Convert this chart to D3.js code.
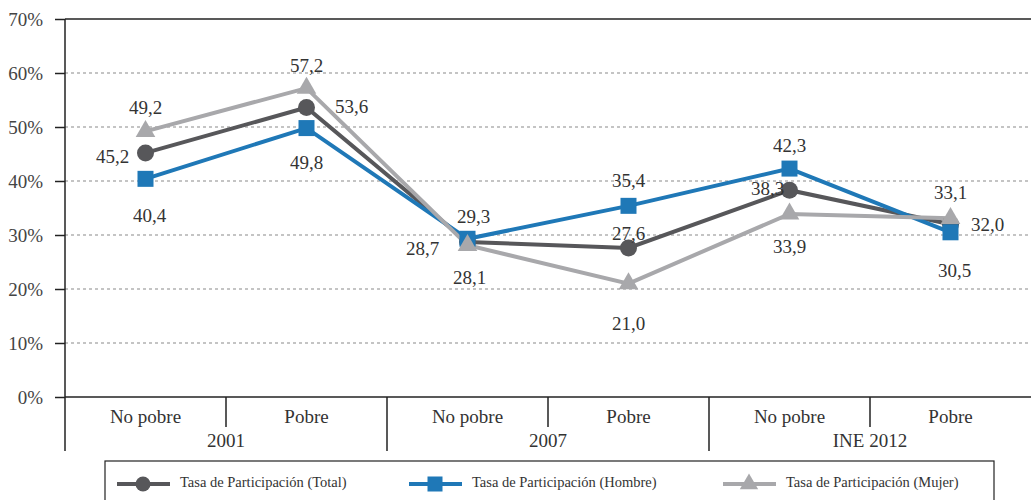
<!DOCTYPE html>
<html>
<head>
<meta charset="utf-8">
<script src="https://cdn.jsdelivr.net/npm/d3@7/dist/d3.min.js"></script>
<style>
  body { margin: 0; background: #fff; }
</style>
</head>
<body>
<div id="chart"></div>
<script>
// data
var categories = ["No pobre", "Pobre", "No pobre", "Pobre", "No pobre", "Pobre"];
var groups = ["2001", "2007", "INE 2012"];
var total = [45.2, 53.6, 28.7, 27.6, 38.3, 32.0];
var hombre = [40.4, 49.8, 29.3, 35.4, 42.3, 30.5];
var mujer = [49.2, 57.2, 28.1, 21.0, 33.9, 33.1];
var yTicks = [0, 10, 20, 30, 40, 50, 60, 70];
var seriesNames = ["Tasa de Participación (Total)", "Tasa de Participación (Hombre)", "Tasa de Participación (Mujer)"];

var serif = "'Liberation Serif', 'DejaVu Serif', serif";
var svgWidth = 1031;
var svgHeight = 500;
var margin = {top: 19, right: 0, bottom: 103, left: 65};
var width = svgWidth - margin.left - margin.right;
var height = svgHeight - margin.top - margin.bottom;

var svg = d3.select("#chart")
    .append("svg")
    .attr("width", svgWidth)
    .attr("height", svgHeight)
    .style("font-family", serif);

var chartGroup = svg.append("g")
    .attr("transform", `translate(${margin.left},${margin.top})`);

var idx = d3.range(categories.length);
var xScale = d3.scaleBand().domain(idx).range([0, width]);
var yScale = d3.scaleLinear().domain([0, 70]).range([height, 0]);

// gridlines (dotted)
chartGroup.selectAll(".grid")
    .data(yTicks.filter(d => d > 0 && d < 70))
    .enter().append("line")
    .attr("x1", 0).attr("x2", width)
    .attr("y1", d => yScale(d)).attr("y2", d => yScale(d))
    .attr("stroke", "#8a8a8a")
    .attr("stroke-width", 1.2)
    .attr("stroke-dasharray", "3,3");

// top line
chartGroup.append("line")
    .attr("x1", 0).attr("x2", width)
    .attr("y1", 0).attr("y2", 0)
    .attr("stroke", "#222").attr("stroke-width", 1.5);

// y axis
var leftAxis = d3.axisLeft(yScale)
    .tickValues(yTicks)
    .tickSize(10)
    .tickPadding(12)
    .tickFormat(d => d + "%");
var yAxis = chartGroup.append("g").call(leftAxis);
yAxis.attr("font-family", null).attr("font-size", null);
yAxis.select(".domain").remove();
yAxis.selectAll(".tick line").attr("stroke", "#222").attr("stroke-width", 1.5);
yAxis.selectAll(".tick text")
    .style("font-family", serif)
    .style("font-size", "19px")
    .attr("fill", "#444");

// left axis line, extends below into category area
chartGroup.append("line")
    .attr("x1", 0).attr("x2", 0)
    .attr("y1", 0).attr("y2", height + 54)
    .attr("stroke", "#222").attr("stroke-width", 1.5);

// bottom axis line
chartGroup.append("line")
    .attr("x1", 0).attr("x2", width)
    .attr("y1", height).attr("y2", height)
    .attr("stroke", "#222").attr("stroke-width", 1.5);

// category separators
idx.slice(1).forEach(function(i) {
    var x = xScale(i);
    var long = i % 2 === 0;
    chartGroup.append("line")
        .attr("x1", x).attr("x2", x)
        .attr("y1", height).attr("y2", height + (long ? 54 : 30))
        .attr("stroke", "#222").attr("stroke-width", 1.5);
});

// category labels
chartGroup.selectAll(".cat")
    .data(idx)
    .enter().append("text")
    .attr("x", d => xScale(d) + xScale.bandwidth() / 2)
    .attr("y", height + 26)
    .attr("text-anchor", "middle")
    .attr("fill", "#333")
    .style("font-size", "19px")
    .text(d => categories[d]);

// group labels
chartGroup.selectAll(".grp")
    .data(groups)
    .enter().append("text")
    .attr("x", (d, i) => xScale(i * 2 + 1))
    .attr("y", height + 50)
    .attr("text-anchor", "middle")
    .attr("fill", "#333")
    .style("font-size", "19px")
    .text(d => d);

var colors = ["#57575a", "#1f78b7", "#a8a8ab"];
var allSeries = [total, hombre, mujer];
var cx = i => xScale(i) + xScale.bandwidth() / 2;

var line = d3.line()
    .x((d, i) => cx(i))
    .y(d => yScale(d));

// draw order: total, hombre, mujer
allSeries.forEach(function(vals, s) {
    chartGroup.append("path")
        .datum(vals)
        .attr("fill", "none")
        .attr("stroke", colors[s])
        .attr("stroke-width", 4)
        .attr("d", line);
});

function drawMarker(g, type, x, y, color, size) {
    if (type === 0) {
        g.append("circle").attr("cx", x).attr("cy", y).attr("r", size / 2).attr("fill", color);
    } else if (type === 1) {
        g.append("rect").attr("x", x - size / 2).attr("y", y - size / 2)
            .attr("width", size).attr("height", size).attr("fill", color);
    } else {
        g.append("path")
            .attr("d", d3.symbol().type(d3.symbolTriangle).size(size * size * 0.65)())
            .attr("transform", `translate(${x},${y})`)
            .attr("fill", color);
    }
}

allSeries.forEach(function(vals, s) {
    vals.forEach(function(v, i) {
        drawMarker(chartGroup, s, cx(i), yScale(v), colors[s], s === 0 ? 17 : 16);
    });
});

// value labels: offsets relative to each point [dx, dy]
var totalOff = [[-33, 6], [45, 1], [-45, 9], [0, -12], [-22, 0], [37, 2]];
var hombreOff = [[4, 39], [0, 37], [6, -20], [0, -23], [0, -21], [4, 40]];
var mujerOff = [[0, -22], [0, -20], [2, 34], [0, 42], [0, 35], [0, -24]];
var offs = [totalOff, hombreOff, mujerOff];

allSeries.forEach(function(vals, s) {
    chartGroup.selectAll(".lbl" + s)
        .data(vals)
        .enter().append("text")
        .attr("x", (d, i) => cx(i) + offs[s][i][0])
        .attr("y", (d, i) => yScale(d) + offs[s][i][1])
        .attr("text-anchor", "middle")
        .attr("dominant-baseline", "middle")
        .attr("fill", "#333")
        .style("font-family", serif)
        .style("font-size", "19px")
        .text(d => d3.format(".1f")(d).replace(".", ","));
});

// legend
var legend = svg.append("g");
legend.append("rect")
    .attr("x", 105).attr("y", 461)
    .attr("width", 889).attr("height", 60)
    .attr("fill", "none")
    .attr("stroke", "#222").attr("stroke-width", 1.2);

var legendX = [117, 409, 723];
seriesNames.forEach(function(name, s) {
    var x0 = legendX[s];
    var y0 = 484;
    legend.append("line")
        .attr("x1", x0).attr("x2", x0 + 53)
        .attr("y1", y0).attr("y2", y0)
        .attr("stroke", colors[s]).attr("stroke-width", 4);
    drawMarker(legend, s, x0 + 26, y0, colors[s], 15);
    legend.append("text")
        .attr("x", x0 + 63)
        .attr("y", y0)
        .attr("dominant-baseline", "middle")
        .attr("fill", "#333")
        .style("font-size", "14.5px")
        .text(name);
});
</script>
</body>
</html>
